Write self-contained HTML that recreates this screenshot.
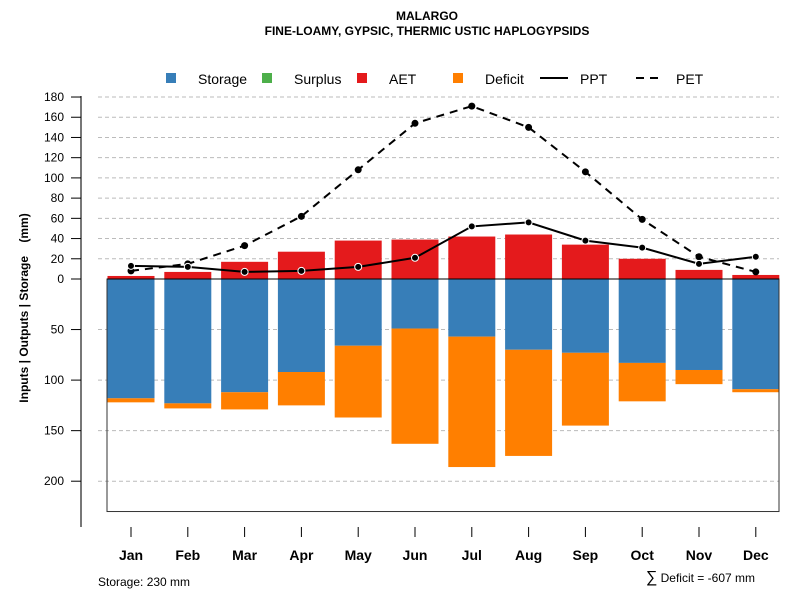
<!DOCTYPE html>
<html><head><meta charset="utf-8"><style>
body{margin:0;background:#fff}
svg{display:block;font-family:"Liberation Sans",Arial,sans-serif}
</style></head><body>
<svg id="chart" width="800" height="600">
<text x="427" y="20" text-anchor="middle" font-size="12" font-weight="bold">MALARGO</text>
<text x="427" y="35" text-anchor="middle" font-size="12" font-weight="bold">FINE-LOAMY, GYPSIC, THERMIC USTIC HAPLOGYPSIDS</text>
<g>
<rect x="166" y="73" width="10" height="10" fill="#377eb8"/>
<text x="198" y="84" font-size="14">Storage</text>
<rect x="262" y="73" width="10" height="10" fill="#4daf4a"/>
<text x="294" y="84" font-size="14">Surplus</text>
<rect x="357" y="73" width="10" height="10" fill="#e41a1c"/>
<text x="389" y="84" font-size="14">AET</text>
<rect x="453" y="73" width="10" height="10" fill="#ff7f00"/>
<text x="485" y="84" font-size="14">Deficit</text>
<line x1="540" y1="78" x2="568" y2="78" stroke="#000" stroke-width="2"/>
<text x="580" y="84" font-size="14">PPT</text>
<line x1="636" y1="78" x2="664" y2="78" stroke="#000" stroke-width="2" stroke-dasharray="8,6"/>
<text x="676" y="84" font-size="14">PET</text>
</g>
<g id="grid"></g><g id="bars"></g><g id="axes"></g><g id="lines"></g>
<text x="98" y="586" font-size="12">Storage: 230 mm</text>
<text x="755" y="582" text-anchor="end" font-size="12"><tspan font-size="16">∑</tspan> Deficit = -607 mm</text>
<text transform="translate(28,308) rotate(-90)" text-anchor="middle" font-size="12" font-weight="bold" style="white-space:pre" xml:space="preserve">Inputs | Outputs | Storage    (mm)</text>
</svg>
<script>
const months=["Jan","Feb","Mar","Apr","May","Jun","Jul","Aug","Sep","Oct","Nov","Dec"];
const aet=[3,7,17,27,38,39,42,44,34,20,9,4];
const storage=[118,123,112,92,66,49,57,70,73,83,90,109];
const deficit=[4,5,17,33,71,114,129,105,72,38,14,3];
const ppt=[13,12,7,8,12,21,52,56,38,31,15,22];
const pet=[8,15,33,62,108,154,171,150,106,59,22,7];
const posTicks=[0,20,40,60,80,100,120,140,160,180];
const negTicks=[50,100,150,200];
const storageMax=230;
const NS="http://www.w3.org/2000/svg";
const y0=279,k=1.011;
const Y=v=>y0-v*k;
const X=i=>131+i*56.8;
const bw=47;
function mk(p,t,a){const e=document.createElementNS(NS,t);for(const n in a)e.setAttribute(n,a[n]);p.appendChild(e);return e;}
const grid=document.getElementById('grid'),bars=document.getElementById('bars'),axes=document.getElementById('axes'),lines=document.getElementById('lines');
posTicks.concat(negTicks.map(v=>-v)).forEach(v=>{
 if(v===0)return;
 const g=mk(grid,'line',{x1:98,x2:779,y1:Y(v),y2:Y(v),stroke:'#bbb','stroke-dasharray':'4,3'});
 
 
});
months.forEach((m,i)=>{
 const x=X(i)-bw/2;
 const r1=mk(bars,'rect',{x:x,y:Y(aet[i]),width:bw,height:aet[i]*k,fill:'#e41a1c'});
 
 
 const r2=mk(bars,'rect',{x:x,y:y0,width:bw,height:storage[i]*k,fill:'#377eb8'});
 
 
 const r3=mk(bars,'rect',{x:x,y:Y(-storage[i]),width:bw,height:deficit[i]*k,fill:'#ff7f00'});
 
 
 const t=mk(axes,'line',{x1:X(i),x2:X(i),y1:527,y2:537,stroke:'#000'});
 
 
 const l=mk(axes,'text',{x:X(i),y:560,'text-anchor':'middle','font-size':14,'font-weight':'bold'});
 l.textContent=m;
 
 
});
const box=mk(axes,'rect',{x:107,y:y0,width:672,height:storageMax*k,fill:'none',stroke:'#333'});


const zl=mk(axes,'line',{x1:107,x2:779,y1:y0,y2:y0,stroke:'#000'});


const ax=mk(axes,'line',{x1:81,x2:81,y1:96,y2:527,stroke:'#777','stroke-width':2});


posTicks.map(v=>[v,v]).concat(negTicks.map(v=>[-v,v])).forEach(([v,lab])=>{
 const t=mk(axes,'line',{x1:71,x2:81,y1:Y(v),y2:Y(v),stroke:'#000'});
 
 
 const l=mk(axes,'text',{x:64,y:Y(v)+4,'text-anchor':'end','font-size':12});
 l.textContent=lab;
 
 
});
function series(vals,dash,name,pointStroke){
 const p=mk(lines,'polyline',{points:vals.map((v,i)=>X(i)+','+Y(v)).join(' '),fill:'none',stroke:'#000','stroke-width':2,'stroke-dasharray':dash});
 
 
 vals.forEach((v,i)=>{
  const c=mk(lines,'circle',{cx:X(i),cy:Y(v),r:3.5,fill:'#000',stroke:pointStroke,'stroke-width':1});
  
  
 });
}
series(pet,'8,6','pet','none');
series(ppt,'none','ppt','#fff');
</script>
</body></html>
